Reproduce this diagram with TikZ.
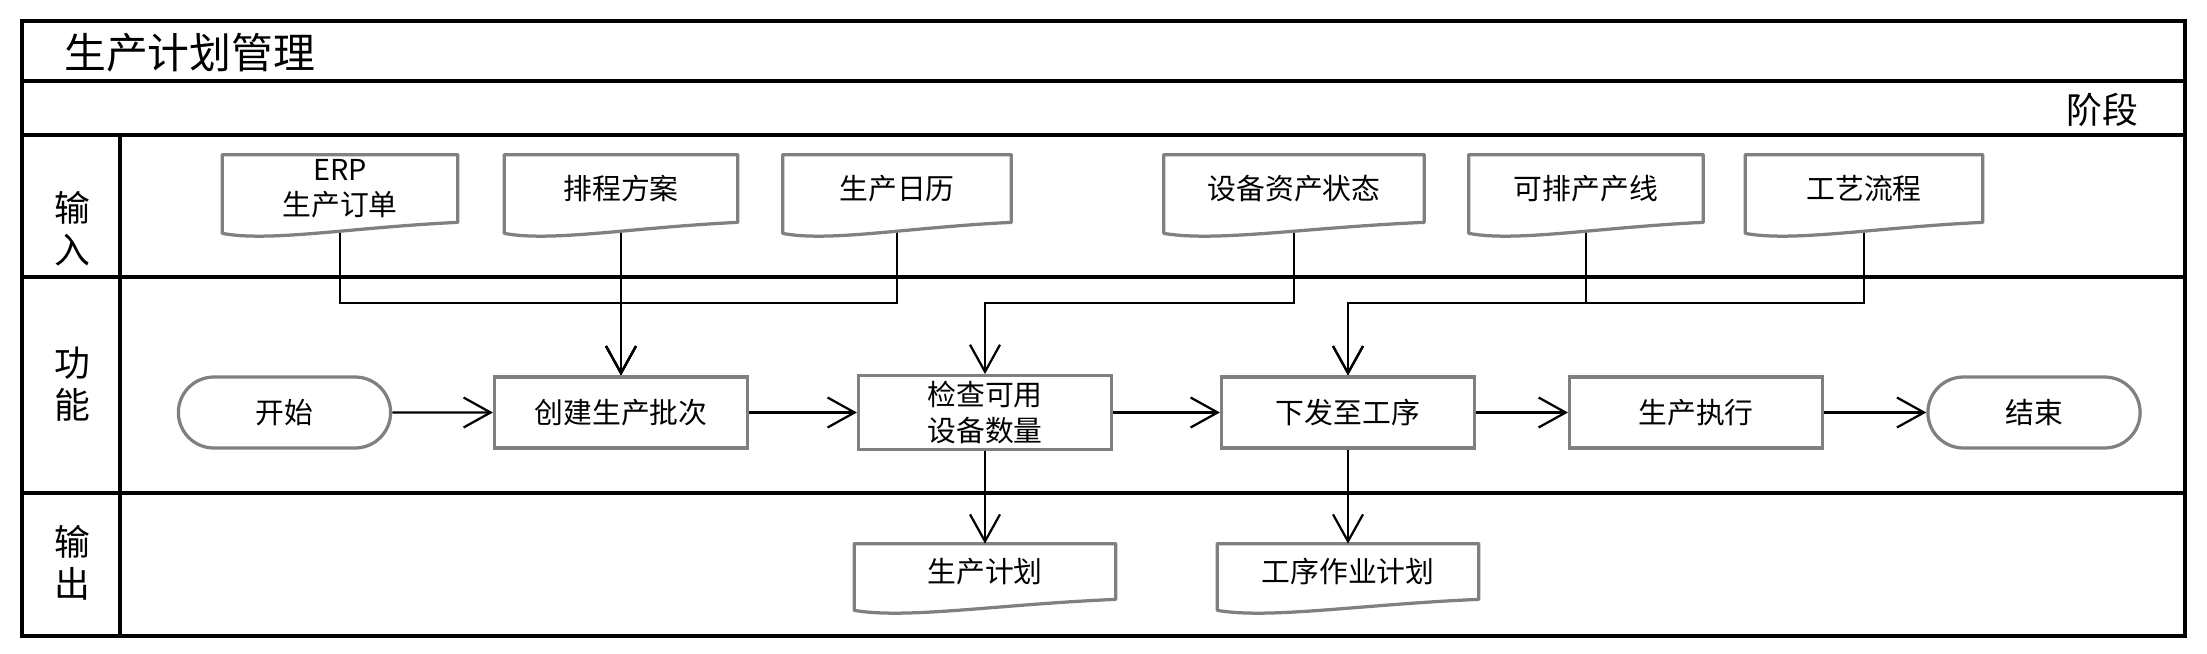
\documentclass[tikz,border=0pt]{standalone}
\usepackage{fontspec}
\setmainfont{Noto Sans CJK SC}
\usepackage{tikz}
\usetikzlibrary{arrows.meta,positioning,calc,shapes.misc}
\definecolor{boxgray}{HTML}{808080}
\pgfdeclarelayer{back}
\pgfdeclarelayer{mid}
\pgfsetlayers{back,mid,main}

\tikzset{
  lane/.style={line width=0.09cm},
  lbl/.style={inner sep=0pt, align=center, font=\fontsize{20.4}{23.9}\selectfont},
  task/.style={draw=boxgray, line width=0.065cm, fill=white, minimum width=5.06cm,
    minimum height=1.42cm, align=center, font=\fontsize{16.4}{20}\selectfont},
  term/.style={task, rounded rectangle, minimum width=4.48cm},
  doc/.style={inner sep=0pt, minimum height=1.34cm, align=center, font=\fontsize{16.4}{20}\selectfont},
  outdoc/.style={doc, minimum height=1.10cm, minimum width=5.22cm},
  docline/.style={draw=boxgray, line width=0.065cm, fill=white, line join=round},
  flow/.style={line width=0.045cm, -{Straight Barb[length=0.54cm,width=0.6cm]}}
}

\begin{document}
\begin{tikzpicture}[x=0.02cm, y=-0.02cm]
  \useasboundingbox (0,0) rectangle (2207,653);

  % lanes
  \draw[lane] (22,21) rectangle (2185,636);
  \draw[lane] (22,81) -- (2185,81);
  \draw[lane] (22,135) -- (2185,135);
  \draw[lane] (22,277) -- (2185,277);
  \draw[lane] (22,493) -- (2185,493);
  \draw[lane] (120,135) -- (120,636);

  \node[anchor=west, inner sep=0pt, font=\fontsize{23.8}{28}\selectfont] (title) at (64,53) {生产计划管理};
  \node[anchor=east, lbl] (stage) at (2139,110) {阶段};
  \node[lbl] (lin) at (72,229) {输\\入};
  \node[lbl] (lfun) at (72,384) {功\\能};
  \node[lbl] (lout) at (72,563) {输\\出};

  % inputs
  \node[doc, minimum width=4.70cm] (erp) at (340,188.5) {ERP\\生产订单};
  \node[doc, minimum width=4.66cm] (sched) at (621,188.5) {排程方案};
  \node[doc, minimum width=4.56cm] (cal) at (897,188.5) {生产日历};
  \node[doc, minimum width=5.20cm] (asset) at (1294,188.5) {设备资产状态};
  \node[doc, minimum width=4.68cm] (lines) at (1586,188.5) {可排产产线};
  \node[doc, minimum width=4.74cm] (route) at (1864,188.5) {工艺流程};

  % functions
  \node[term] (start) at (284.5,412.5) {开始};
  \node[task] (batch) at (621,412.5) {创建生产批次};
  \node[task] (check) at (985,412.5) {检查可用\\设备数量};
  \node[task] (issue) at (1348,412.5) {下发至工序};
  \node[task] (exec) at (1696,412.5) {生产执行};
  \node[term] (stop) at (2034,412.5) {结束};

  % outputs
  \node[outdoc] (plan) at (985,571.5) {生产计划};
  \node[outdoc] (opplan) at (1348,571.5) {工序作业计划};

  \coordinate (bus) at (0,303);

  \begin{pgfonlayer}{back}
    \draw[flow] (erp.south) -- (erp.south |- bus) -| (batch.north);
    \draw[flow] (sched.south) -- (batch.north);
    \draw[flow] (cal.south) -- (cal.south |- bus) -| (batch.north);
    \draw[flow] (asset.south) -- (asset.south |- bus) -| (check.north);
    \draw[flow] (lines.south) -- (lines.south |- bus) -| (issue.north);
    \draw[flow] (route.south) -- (route.south |- bus) -| (issue.north);
  \end{pgfonlayer}

  \draw[flow] (start) -- (batch);
  \draw[flow] (batch) -- (check);
  \draw[flow] (check) -- (issue);
  \draw[flow] (issue) -- (exec);
  \draw[flow] (exec) -- (stop);
  \draw[flow] (check) -- (plan);
  \draw[flow] (issue) -- (opplan);

  % document outlines
  \begin{pgfonlayer}{mid}
    \foreach \n in {erp,sched,cal,asset,lines,route,plan,opplan}
      \draw[docline] (\n.north west) -- (\n.north east) -- (\n.south east)
        .. controls ($(\n.south east)!0.45!(\n.south west)+(0,5)$)
        and ($(\n.south east)!0.8!(\n.south west)+(0,20)$)
        .. ($(\n.south west)+(0,11)$) -- cycle;
  \end{pgfonlayer}
\end{tikzpicture}
\end{document}
